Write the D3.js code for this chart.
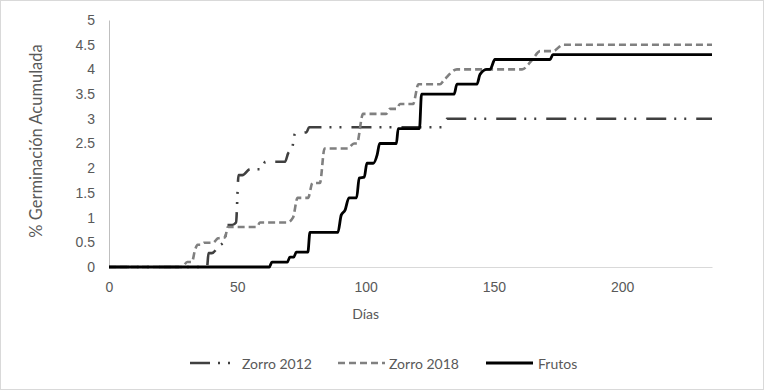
<!DOCTYPE html>
<html>
<head>
<meta charset="utf-8">
<script src="https://cdn.jsdelivr.net/npm/d3@7"></script>
<style>
  body { margin: 0; background: #fff; }
  svg { display: block; font-family: Lato, "Open Sans", sans-serif; }
</style>
</head>
<body>
<div id="chart"></div>
<script>
// Values: [day, % accumulated germination]
const zorro2012 = [
  [0, 0], [38.2, 0], [38.8, 0.28], [40.1, 0.28], [42.9, 0.43], [45.2, 0.53],
  [46, 0.85], [48, 0.85], [49.5, 0.9], [50.5, 1.86], [52, 1.86], [55, 1.98],
  [59.2, 1.98], [61, 2.13], [68.6, 2.13], [69.8, 2.3], [71.3, 2.39], [72.5, 2.7],
  [77, 2.73], [78, 2.83], [130, 2.83], [131.7, 3.0], [235, 3.0]
];
const zorro2018 = [
  [0, 0], [28.4, 0], [30.5, 0.1], [32.3, 0.1], [33.5, 0.34], [34.5, 0.45],
  [36, 0.45], [37, 0.49], [40.5, 0.49], [42.5, 0.58], [45.2, 0.6], [46.3, 0.81],
  [57.7, 0.81], [58.8, 0.9], [69.4, 0.9], [71.7, 1.0], [73.5, 1.4], [77.6, 1.4],
  [79.3, 1.7], [82.2, 1.7], [84, 2.4], [93, 2.4], [95.5, 2.5], [96.6, 2.5],
  [99, 3.1], [108, 3.1], [109.5, 3.2], [112, 3.2], [113.4, 3.3], [118.5, 3.3],
  [120.6, 3.7], [129, 3.7], [130.5, 3.78], [135.6, 4.0], [161, 4.0], [165, 4.2],
  [168, 4.37], [173, 4.37], [177, 4.5], [235, 4.5]
];
const frutos = [
  [0, 0], [62.5, 0], [63.5, 0.1], [69.5, 0.1], [70.5, 0.2], [72, 0.2], [73, 0.3],
  [77.5, 0.3], [78.3, 0.7], [89.2, 0.7], [90.5, 1.05], [92, 1.15], [93.5, 1.4],
  [96.5, 1.4], [97.5, 1.8], [99.5, 1.82], [100.5, 2.1], [103, 2.1], [104.5, 2.27],
  [105.5, 2.5], [112, 2.5], [112.7, 2.8], [121, 2.8], [121.8, 3.5], [134.5, 3.5],
  [135.6, 3.7], [143.4, 3.7], [144.6, 3.9], [147.3, 4.0], [148.5, 4.0], [150.4, 4.2],
  [171.9, 4.2], [173, 4.3], [235, 4.3]
];

const seriesNames = ["Zorro 2012", "Zorro 2018", "Frutos"];
const xTicks = [0, 50, 100, 150, 200];
const yTicks = [0, 0.5, 1, 1.5, 2, 2.5, 3, 3.5, 4, 4.5, 5];

const width = 764;
const height = 390;
const margin = { top: 20, right: 52, bottom: 123, left: 109 };
const innerW = width - margin.left - margin.right;
const innerH = height - margin.top - margin.bottom;

const svg = d3.select("#chart")
  .append("svg")
  .attr("width", width)
  .attr("height", height);

// outer frame
svg.append("rect")
  .attr("x", 0.5).attr("y", 0.5)
  .attr("width", width - 1).attr("height", height - 1)
  .attr("fill", "#fff")
  .attr("stroke", "#d9d9d9");

const g = svg.append("g")
  .attr("transform", `translate(${margin.left}, ${margin.top})`);

// Scales
const x = d3.scaleLinear().domain([0, 235]).range([0, innerW]);
const y = d3.scaleLinear().domain([0, 5]).range([innerH, 0]);

// Axes
const xAxis = g.append("g")
  .attr("transform", `translate(0, ${innerH})`)
  .call(d3.axisBottom(x).tickValues(xTicks).tickSize(0).tickPadding(15));
xAxis.select(".domain").attr("stroke", "#d9d9d9");

const yAxis = g.append("g")
  .call(d3.axisLeft(y).tickValues(yTicks).tickSize(0).tickPadding(14)
    .tickFormat(d => String(d)));
yAxis.select(".domain").attr("stroke", "#bfbfbf");

g.selectAll(".tick text")
  .attr("fill", "#595959")
  .style("font-size", "14px");

// Axis titles
g.append("text")
  .attr("x", x(100))
  .attr("y", innerH + 52)
  .attr("text-anchor", "middle")
  .attr("fill", "#595959")
  .style("font-size", "14px")
  .text("Días");

g.append("text")
  .attr("transform", `translate(${36 - margin.left}, ${141 - margin.top}) rotate(-90)`)
  .attr("text-anchor", "middle")
  .attr("dominant-baseline", "central")
  .attr("fill", "#595959")
  .style("font-size", "16.5px")
  .text("% Germinación Acumulada");

// Lines
const line = d3.line()
  .x(d => x(d[0]))
  .y(d => y(d[1]))
  .curve(d3.curveMonotoneX);

const styles = [
  { color: "#404040", width: 2.6, dash: "20,8,2,8,2,10" },
  { color: "#808080", width: 2.6, dash: "7,4" },
  { color: "#000000", width: 2.8, dash: null }
];

[zorro2012, zorro2018, frutos].forEach((data, i) => {
  g.append("path")
    .datum(data)
    .attr("fill", "none")
    .attr("stroke", styles[i].color)
    .attr("stroke-width", styles[i].width)
    .attr("stroke-dasharray", styles[i].dash)
    .attr("d", line);
});

// Legend
const legendX = [190, 338, 486];
const legend = svg.append("g").attr("transform", "translate(0, 363)");
seriesNames.forEach((name, i) => {
  const item = legend.append("g").attr("transform", `translate(${legendX[i]}, 0)`);
  item.append("line")
    .attr("x1", 0).attr("x2", i === 0 ? 42 : 47)
    .attr("stroke", styles[i].color)
    .attr("stroke-width", styles[i].width)
    .attr("stroke-dasharray", styles[i].dash);
  item.append("text")
    .attr("x", i === 0 ? 52 : i === 1 ? 51 : 52)
    .attr("dominant-baseline", "central")
    .attr("fill", "#595959")
    .style("font-size", "14px")
    .text(name);
});
</script>
</body>
</html>
